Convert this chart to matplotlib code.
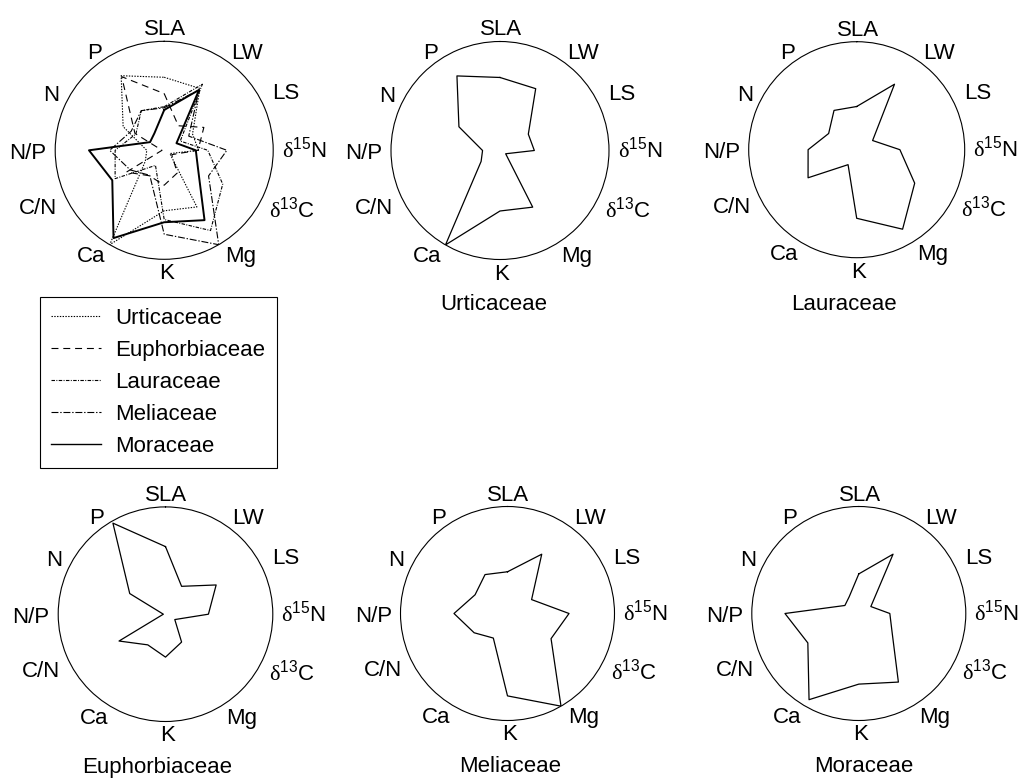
import matplotlib
matplotlib.use('Agg')
import matplotlib.pyplot as plt
import matplotlib.transforms as mtrans
import numpy as np
from matplotlib.lines import Line2D

plt.rcParams['font.family'] = ['Liberation Sans', 'DejaVu Sans']
plt.rcParams['mathtext.fontset'] = 'custom'
plt.rcParams['mathtext.rm'] = 'Liberation Serif'
plt.rcParams['mathtext.sf'] = 'Liberation Sans'
plt.rcParams['lines.scale_dashes'] = False

# ---- data (normalised, circle = 1) ----
variables = ['SLA', 'LW', 'LS', r'$\mathrm{\delta}^{\mathsf{15}}$N',
             r'$\mathrm{\delta}^{\mathsf{13}}$C', 'Mg', 'K', 'Ca', 'C/N', 'N/P', 'N', 'P']
families = ['Urticaceae', 'Euphorbiaceae', 'Lauraceae', 'Meliaceae', 'Moraceae']

urticaceae    = [0.67, 0.655, 0.30, 0.315, 0.06, 0.60, 0.555, 1.00, 0.20, 0.16, 0.435, 0.79]
euphorbiaceae = [0.63, 0.30, 0.545, 0.40, 0.10, 0.30, 0.40, 0.33, 0.50, 0.02, 0.385, 0.98]
lauraceae     = [0.40, 0.70, 0.17, 0.40, 0.62, 0.85, 0.635, 0.16, 0.52, 0.45, 0.30, 0.42]
meliaceae     = [0.39, 0.64, 0.26, 0.575, 0.47, 1.00, 0.77, 0.265, 0.36, 0.50, 0.35, 0.42]
moraceae      = [0.37, 0.64, 0.13, 0.29, 0.36, 0.74, 0.66, 0.93, 0.55, 0.69, 0.15, 0.18]
# Euphorbiaceae as drawn in the overlay panel (smaller than in its own panel)
euphorbiaceae_overlay = [0.52, 0.26, 0.42, 0.31, 0.08, 0.24, 0.32, 0.27, 0.40, 0.02, 0.31, 0.78]

series = {'Urticaceae': urticaceae, 'Euphorbiaceae': euphorbiaceae,
          'Lauraceae': lauraceae, 'Meliaceae': meliaceae, 'Moraceae': moraceae}
overlay = dict(series, Euphorbiaceae=euphorbiaceae_overlay)

styles = {
    'Urticaceae':    dict(ls=(0, (1.0, 1.0)), lw=0.8),
    'Euphorbiaceae': dict(ls=(0, (5.0, 3.5)), lw=0.8),
    'Lauraceae':     dict(ls=(0, (2.5, 1.0, 0.7, 1.0)), lw=0.8),
    'Meliaceae':     dict(ls=(0, (5.0, 1.3, 1.0, 1.3)), lw=0.8),
    'Moraceae':      dict(ls='-', lw=1.4),
}

# label nudges in pixels (x right, y up)
label_nudge = [(1, -1), (8, -6), (5, -3), (-1, 1), (2, 0), (2, -3),
               (2, -2), (1, -3), (-4, 1), (1, -3), (-2, -5), (-3, -6)]

W, H = 1020, 778
fig = plt.figure(figsize=(W / 100, H / 100), dpi=100)

n = len(variables)
theta = np.deg2rad(np.arange(n) * 360.0 / n)
theta_c = np.append(theta, theta[0])


def make_ax(cx, cy, R):
    ax = fig.add_axes([(cx - R) / W, 1 - (cy + R) / H, 2 * R / W, 2 * R / H],
                      projection='polar')
    ax.set_theta_zero_location('N')
    ax.set_theta_direction(-1)
    ax.set_ylim(0, 1)
    ax.set_yticks([])
    ax.set_xticks([0])
    ax.set_xticklabels([''])
    ax.tick_params(axis='x', length=3, width=0.8, direction='inout')
    ax.grid(False)
    ax.spines['polar'].set_linewidth(0.8)
    ax.set_facecolor('none')
    for t, lab, (dx, dy) in zip(theta, variables, label_nudge):
        s = np.sin(t)
        if abs(s) < 1e-6:
            ha = 'center'
            r = 1.115
        else:
            ha = 'left' if s > 0 else 'right'
            r = 1.09
        tr = mtrans.offset_copy(ax.transData, fig=fig, x=dx, y=dy, units='dots')
        ax.text(t, r, lab, ha=ha, va='center', fontsize=16, clip_on=False,
                transform=tr)
    return ax


def closed(v):
    return np.append(v, v[0])


# combined panel
ax0 = make_ax(164.2, 150.3, 109)
for fam in families:
    ax0.plot(theta_c, closed(overlay[fam]), color='black', **styles[fam])

# individual panels
panels = [('Urticaceae', 500.0, 150.5, 109, 493.7, 310),
          ('Lauraceae', 856.7, 149.7, 108, 844.0, 310),
          ('Euphorbiaceae', 165.5, 614.2, 107.3, 156.7, 772.5),
          ('Meliaceae', 507.5, 613.5, 107, 509.7, 772.5),
          ('Moraceae', 858.8, 613.5, 107, 863.3, 771.5)]
for fam, cx, cy, R, tx, ty in panels:
    ax = make_ax(cx, cy, R)
    ax.plot(theta_c, closed(series[fam]), color='black', lw=0.9)
    fig.text(tx / W, 1 - ty / H, fam, ha='center', va='baseline', fontsize=16)

handles = [Line2D([], [], color='black', **styles[f]) for f in families]
handles[-1].set_linewidth(1.0)
leg = fig.legend(handles, families, loc='upper left',
                 bbox_to_anchor=(40 / W, 1 - 297 / H), frameon=True, fancybox=False,
                 edgecolor='black', framealpha=1, fontsize=16, handlelength=2.25,
                 handletextpad=0.65, labelspacing=0.49, borderpad=0.5, borderaxespad=0)
leg.get_frame().set_linewidth(0.8)

fig.savefig('out.png', dpi=100)
